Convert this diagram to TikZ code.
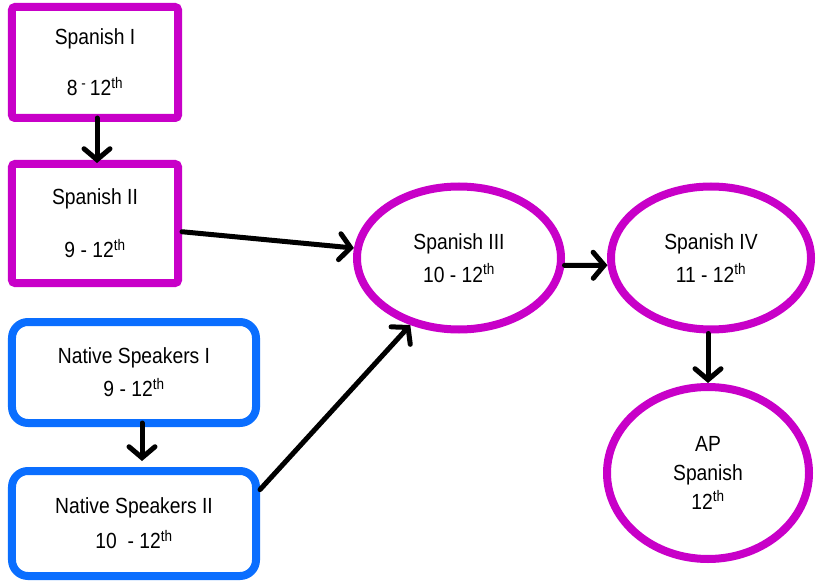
\documentclass[tikz,border=0pt]{standalone}
\usepackage{fontspec}
\setmainfont[FakeStretch=0.88]{Liberation Sans}
\usetikzlibrary{arrows.meta,shapes.geometric,calc}
\definecolor{mag}{RGB}{200,0,200}
\definecolor{nsblue}{RGB}{10,110,255}
\tikzset{
  lbl/.style={font=\fontsize{22}{25}\selectfont, align=center, text=black, inner sep=0pt},
  spbox/.style={lbl, draw=mag, line width=8bp, rounded corners=3bp, rectangle},
  nsbox/.style={lbl, draw=nsblue, line width=8bp, rounded corners=16bp, rectangle},
  spell/.style={lbl, draw=mag, line width=8bp, ellipse},
  flow/.style={line width=5bp, line cap=round, -{Straight Barb[length=11bp,width=26bp,line cap=round]}}
}
\begin{document}
\begin{tikzpicture}[x=1bp,y=-1bp]
\useasboundingbox (0,0) rectangle (816,582);
\node[spbox, minimum width=166bp, minimum height=111bp] (s1) at (95,62.5) {Spanish I\\[26bp]8\,\textsuperscript{-}\,12\textsuperscript{th}};
\node[spbox, minimum width=166bp, minimum height=119bp] (s2) at (95,223.5) {Spanish II\\[28bp]9 - 12\textsuperscript{th}};
\node[nsbox, minimum width=244bp, minimum height=101bp] (ns1) at (134,372.5) {Native Speakers I\\[8bp]9 - 12\textsuperscript{th}};
\node[nsbox, minimum width=244bp, minimum height=105bp] (ns2) at (134,523.5) {Native Speakers II\\[10bp]10\ \ - 12\textsuperscript{th}};
\node[spell, minimum width=204bp, minimum height=143bp] (s3) at (459,258) {Spanish III\\[8bp]10 - 12\textsuperscript{th}};
\node[spell, minimum width=200bp, minimum height=143bp] (s4) at (711,258) {Spanish IV\\[8bp]11 - 12\textsuperscript{th}};
\node[spell, minimum width=202bp, minimum height=172bp] (ap) at (708,473) {AP\\[4bp]Spanish\\[4bp]12\textsuperscript{th}};
\draw[flow] ($(s1.south)+(2,-4)$) -- ($(s2.north)+(2,3)$);
\draw[flow] (s2) -- (s3);
\draw[flow] ($(ns1.south)+(8,-4)$) -- ($(ns2.north)+(8,-6)$);
\draw[flow] ($(ns2.north east)!0.2!(ns2.south east)$) -- (s3.234);
\draw[flow] (s3.-4) -- (s4.184);
\draw[flow] ($(s4.south)+(-3,0)$) -- (ap.north);
\end{tikzpicture}
\end{document}
